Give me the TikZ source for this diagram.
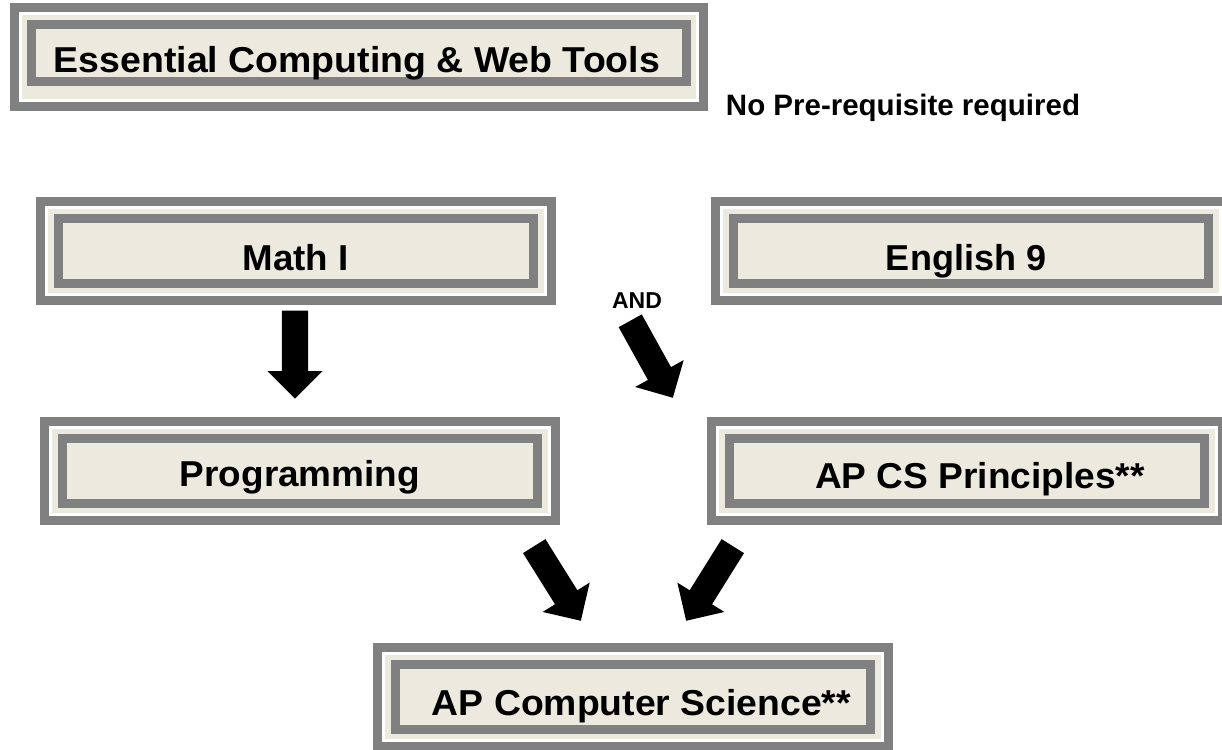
\documentclass[tikz,border=0pt]{standalone}
\usepackage{fontspec}
\setmainfont{Liberation Sans}
\usetikzlibrary{shapes.arrows}
\definecolor{framegray}{RGB}{128,128,128}
\definecolor{paper}{RGB}{236,233,223}
\begin{document}
\begin{tikzpicture}[x=1pt, y=-1pt,
        frame/.style={draw=white, line width=15pt, fill=paper, inner sep=0pt, outer sep=0pt, minimum width=511pt, minimum height=99pt, postaction={draw=framegray, line width=9pt}},
        course/.style={draw=framegray, fill=paper, line width=9pt, inner sep=0pt, outer sep=0pt, minimum width=475pt, minimum height=65pt},
        title/.style={anchor=base, inner sep=0pt, font=\fontsize{36}{40}\selectfont\bfseries},
        note/.style={anchor=base, inner sep=0pt, font=\fontsize{29.5}{34}\selectfont\bfseries},
        bigarrow/.style={single arrow, fill=black, anchor=tip, inner sep=0pt, inner ysep=13pt, minimum height=88pt, minimum width=55pt, single arrow head extend=14.5pt, single arrow head indent=0pt}
      ]
      \useasboundingbox (0,0) rectangle (1222,749);

      % Entry course
      \node[frame, minimum width=689pt] (tools-out) at (359, 57) {};
      \node[course, minimum width=655pt, minimum height=57pt] (tools) at (359, 53) {};
      \node[title, xscale=1.04] (tools-lbl) at (357, 73) {Essential Computing \& Web Tools};
      \node[note] (nopre) at (903, 115) {No Pre-requisite required};

      % Pre-requisites
      \node[frame] (math-out) at (296, 251) {};
      \node[course] (math) at (296, 251) {};
      \node[title, xscale=1.02] (math-lbl) at (295.5, 270) {Math I};

      \node[frame] (eng-out) at (970.5, 251) {};
      \node[course] (eng) at (970.5, 251) {};
      \node[title] (eng-lbl) at (966, 270) {English 9};

      \node[anchor=base, inner sep=0pt, font=\fontsize{23}{26}\selectfont\bfseries] (and) at (637, 308) {AND};

      % Second level
      \node[frame] (prog-out) at (299.5, 470.5) {};
      \node[course] (prog) at (299.5, 470.5) {};
      \node[title, xscale=1.026] (prog-lbl) at (300, 486) {Programming};

      \node[frame] (csp-out) at (966.5, 470.5) {};
      \node[course] (csp) at (966.5, 470.5) {};
      \node[title, xscale=1.03] (csp-lbl) at (980, 488) {AP CS Principles**};

      % Final course
      \node[frame] (apcs-out) at (633, 697) {};
      \node[course] (apcs) at (633, 697) {};
      \node[title, xscale=1.037] (apcs-lbl) at (641.5, 715) {AP Computer Science**};

      % Block arrows
      \node[bigarrow, rotate=-90] (down) at (295, 399) {};
      \node[bigarrow, rotate=-61] (andarrow) at (673, 398) {};
      \node[bigarrow, rotate=-58] (leftarrow) at (581, 621) {};
      \node[bigarrow, rotate=-122] (rightarrow) at (686, 621) {};

    \end{tikzpicture}
\end{document}
